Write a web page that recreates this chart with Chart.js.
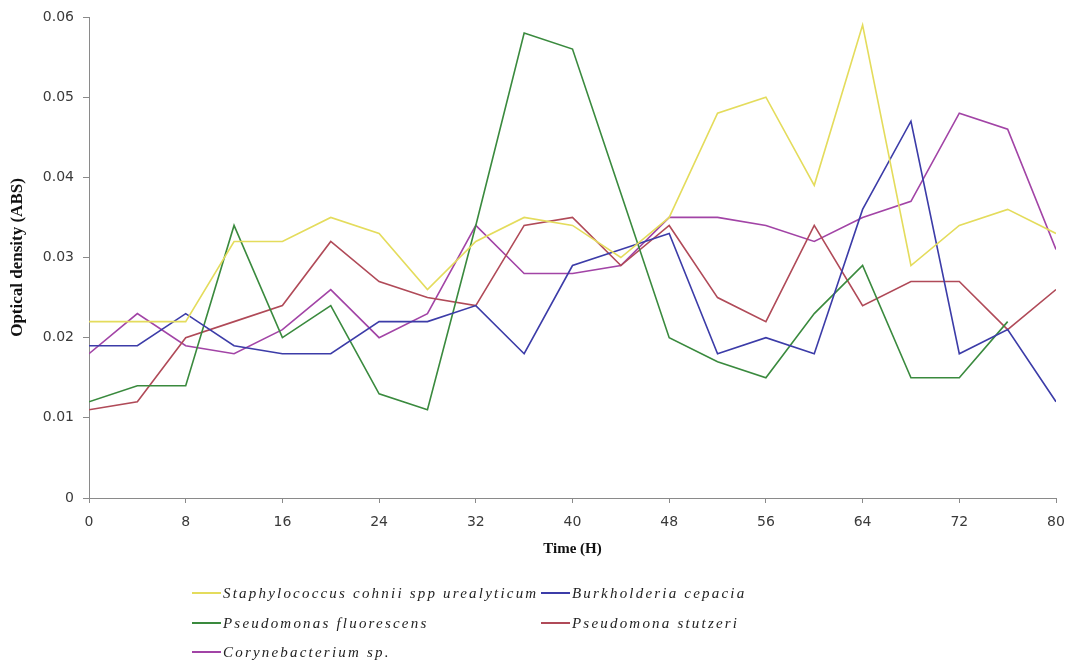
<!DOCTYPE html>
<html>
<head>
<meta charset="utf-8">
<script src="https://cdn.jsdelivr.net/npm/chart.js@4.4.1/dist/chart.umd.min.js"></script>
<style>
  html, body { margin: 0; padding: 0; background: #fff; overflow: hidden; }
  #wrap { position: relative; width: 1067px; height: 667px; }
  #legend { position: absolute; left: 0; top: 0; width: 1067px; height: 667px; pointer-events: none; }
  .item { position: absolute; display: flex; align-items: center; white-space: nowrap;
          font-family: "Liberation Serif", serif; font-style: italic; font-size: 15px;
          letter-spacing: 2.2px; color: #222; }
  .swatch { display: inline-block; width: 29px; height: 2px; margin-right: 2px; }
</style>
</head>
<body>
<div id="wrap">
  <canvas id="c"></canvas>
  <div id="legend"></div>
</div>
<script>
// ---- data ----
const times = [0, 4, 8, 12, 16, 20, 24, 28, 32, 36, 40, 44, 48, 52, 56, 60, 64, 68, 72, 76, 80];
const staphylococcus = [0.022, 0.022, 0.022, 0.032, 0.032, 0.035, 0.033, 0.026, 0.032, 0.035, 0.034, 0.030, 0.035, 0.048, 0.050, 0.039, 0.059, 0.029, 0.034, 0.036, 0.033];
const burkholderia   = [0.019, 0.019, 0.023, 0.019, 0.018, 0.018, 0.022, 0.022, 0.024, 0.018, 0.029, 0.031, 0.033, 0.018, 0.020, 0.018, 0.036, 0.047, 0.018, 0.021, 0.012];
const fluorescens    = [0.012, 0.014, 0.014, 0.034, 0.020, 0.024, 0.013, 0.011, 0.034, 0.058, 0.056, 0.038, 0.020, 0.017, 0.015, 0.023, 0.029, 0.015, 0.015, 0.022, null];
const stutzeri       = [0.011, 0.012, 0.020, 0.022, 0.024, 0.032, 0.027, 0.025, 0.024, 0.034, 0.035, 0.029, 0.034, 0.025, 0.022, 0.034, 0.024, 0.027, 0.027, 0.021, 0.026];
const corynebacterium= [0.018, 0.023, 0.019, 0.018, 0.021, 0.026, 0.020, 0.023, 0.034, 0.028, 0.028, 0.029, 0.035, 0.035, 0.034, 0.032, 0.035, 0.037, 0.048, 0.046, 0.031];
const seriesNames = ["Staphylococcus cohnii spp urealyticum", "Burkholderia cepacia", "Pseudomonas fluorescens", "Pseudomona stutzeri", "Corynebacterium sp."];
const xTickLabels = ["0", "8", "16", "24", "32", "40", "48", "56", "64", "72", "80"];
const yTickLabels = ["0", "0.01", "0.02", "0.03", "0.04", "0.05", "0.06"];
const xTitle = "Time (H)";
const yTitle = "Optical density (ABS)";

const colors = ["#e4dc5c", "#3c3ca8", "#3a8a3e", "#b04a58", "#a244a6"];
const seriesValues = [staphylococcus, burkholderia, fluorescens, stutzeri, corynebacterium];

const datasets = seriesValues.map((vals, i) => ({
  label: seriesNames[i],
  data: times.map((t, j) => ({ x: t, y: vals[j] })),
  borderColor: colors[i],
  backgroundColor: colors[i],
  borderWidth: 1.6,
  pointRadius: 0,
  tension: 0,
  spanGaps: false
}));

const axisColor = "#8a8a8a";

new Chart(document.getElementById("c"), {
  type: "line",
  data: { datasets },
  options: {
    responsive: true,
    maintainAspectRatio: false,
    animation: false,
    layout: { padding: { left: 0, top: 17, right: 11, bottom: 109 } },
    plugins: { legend: { display: false }, tooltip: { enabled: false } },
    scales: {
      x: {
        type: "linear",
        min: 0, max: 80,
        afterFit: (s) => { s.height = 60; s.paddingLeft = 0; s.paddingRight = 0; },
        afterBuildTicks: (s) => { s.ticks = xTickLabels.map(v => ({ value: Number(v) })); },
        ticks: {
          callback: (v, i) => xTickLabels[i],
          font: { family: "DejaVu Sans", size: 14 },
          color: "#3a3a3a",
          padding: 11,
          maxRotation: 0
        },
        grid: { drawOnChartArea: false, drawTicks: true, tickLength: 5, color: axisColor },
        border: { display: true, color: axisColor, width: 1 },
        title: {
          display: true, text: xTitle,
          font: { family: "Liberation Serif", size: 15, weight: "bold" },
          color: "#111",
          padding: { top: 5, bottom: 0 }
        }
      },
      y: {
        min: 0, max: 0.06,
        afterFit: (s) => { s.width = 89; s.paddingTop = 0; s.paddingBottom = 0; },
        afterBuildTicks: (s) => { s.ticks = yTickLabels.map(v => ({ value: Number(v) })); },
        ticks: {
          callback: (v, i) => yTickLabels[i],
          font: { family: "DejaVu Sans", size: 14 },
          color: "#3a3a3a",
          padding: 9
        },
        grid: { drawOnChartArea: false, drawTicks: true, tickLength: 6, color: axisColor },
        border: { display: true, color: axisColor, width: 1 },
        title: {
          display: true, text: yTitle,
          font: { family: "Liberation Serif", size: 17, weight: "bold" },
          color: "#111",
          padding: { top: 7, bottom: 0 }
        }
      }
    }
  }
});

// ---- legend (HTML text) ----
const legendPos = [
  { left: 192, top: 593 },
  { left: 541, top: 593 },
  { left: 192, top: 623 },
  { left: 541, top: 623 },
  { left: 192, top: 652 }
];
const lg = document.getElementById("legend");
seriesNames.forEach((name, i) => {
  const d = document.createElement("div");
  d.className = "item";
  d.style.left = legendPos[i].left + "px";
  d.style.top = (legendPos[i].top - 10) + "px";
  d.style.height = "20px";
  const sw = document.createElement("span");
  sw.className = "swatch";
  sw.style.background = colors[i];
  const tx = document.createElement("span");
  tx.textContent = name;
  d.appendChild(sw);
  d.appendChild(tx);
  lg.appendChild(d);
});
</script>
</body>
</html>
